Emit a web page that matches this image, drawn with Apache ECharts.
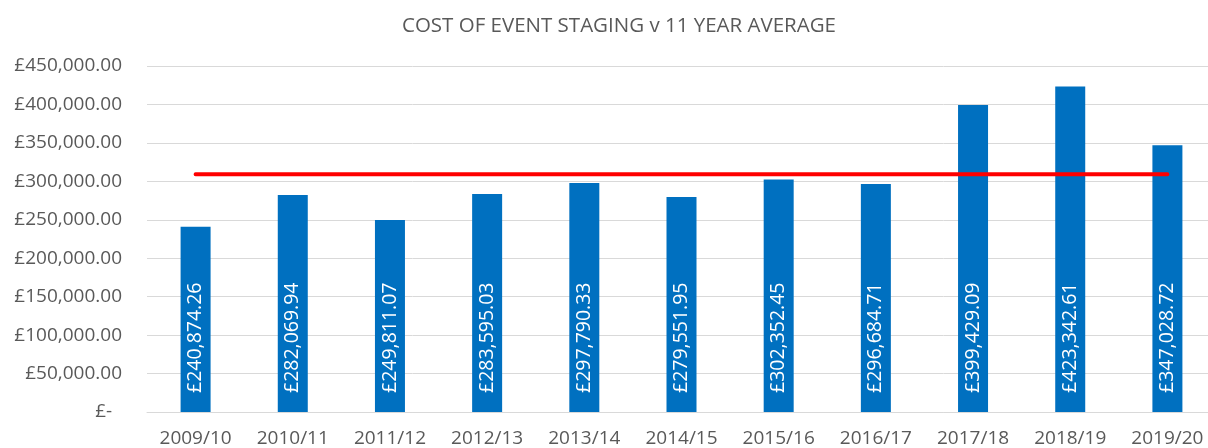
<!DOCTYPE html>
<html>
<head>
<meta charset="utf-8">
<script src="https://cdn.jsdelivr.net/npm/echarts@6/dist/echarts.min.js"></script>
<style>
  html, body { margin: 0; padding: 0; background: #fff; }
  #main { width: 1208px; height: 448px; }
</style>
</head>
<body>
<div id="main"></div>
<script>
var years = ['2009/10', '2010/11', '2011/12', '2012/13', '2013/14', '2014/15', '2015/16', '2016/17', '2017/18', '2018/19', '2019/20'];
var costs = [240874.26, 282069.94, 249811.07, 283595.03, 297790.33, 279551.95, 302352.45, 296684.71, 399429.09, 423342.61, 347028.72];
var average = [309320.92, 309320.92, 309320.92, 309320.92, 309320.92, 309320.92, 309320.92, 309320.92, 309320.92, 309320.92, 309320.92];

function money(v) {
  return '£' + v.toLocaleString('en-GB', { minimumFractionDigits: 2, maximumFractionDigits: 2 });
}

var chartDom = document.getElementById('main');
var myChart = echarts.init(chartDom);
var option;
option = {
  animation: false,
  textStyle: { fontFamily: 'Open Sans' },
  title: {
    text: 'COST OF EVENT STAGING v 11 YEAR AVERAGE',
    left: 614,
    textAlign: 'center',
    top: 11,
    textStyle: { fontSize: 20.5, fontWeight: 'normal', color: '#595959', fontFamily: 'Open Sans' }
  },
  grid: { left: 147, width: 1069, top: 66, bottom: 36, containLabel: false, outerBoundsMode: 'none' },
  xAxis: {
    type: 'category',
    data: years,
    axisLine: { lineStyle: { color: '#D9D9D9', width: 1 } },
    axisTick: { show: false },
    axisLabel: { color: '#595959', fontSize: 19, margin: 17, interval: 0 }
  },
  yAxis: {
    type: 'value',
    min: 0,
    max: 450000,
    interval: 50000,
    axisLine: { show: false },
    axisTick: { show: false },
    splitLine: { lineStyle: { color: '#D9D9D9', width: 1 } },
    axisLabel: {
      color: '#595959',
      fontSize: 19,
      margin: 25,
      formatter: function (v) { return v === 0 ? '£-  ' : money(v); }
    }
  },
  series: [
    {
      type: 'bar',
      data: costs,
      barWidth: 30,
      itemStyle: { color: '#0070C0' },
      label: {
        show: true,
        position: 'insideBottom',
        distance: 19,
        rotate: 90,
        align: 'left',
        verticalAlign: 'middle',
        color: '#fff',
        fontSize: 19.5,
        formatter: function (p) { return money(p.value); }
      }
    },
    {
      type: 'line',
      data: average,
      symbol: 'none',
      lineStyle: { color: '#FF0000', width: 4, cap: 'round' },
      z: 5
    }
  ]
};
option && myChart.setOption(option);
</script>
</body>
</html>
